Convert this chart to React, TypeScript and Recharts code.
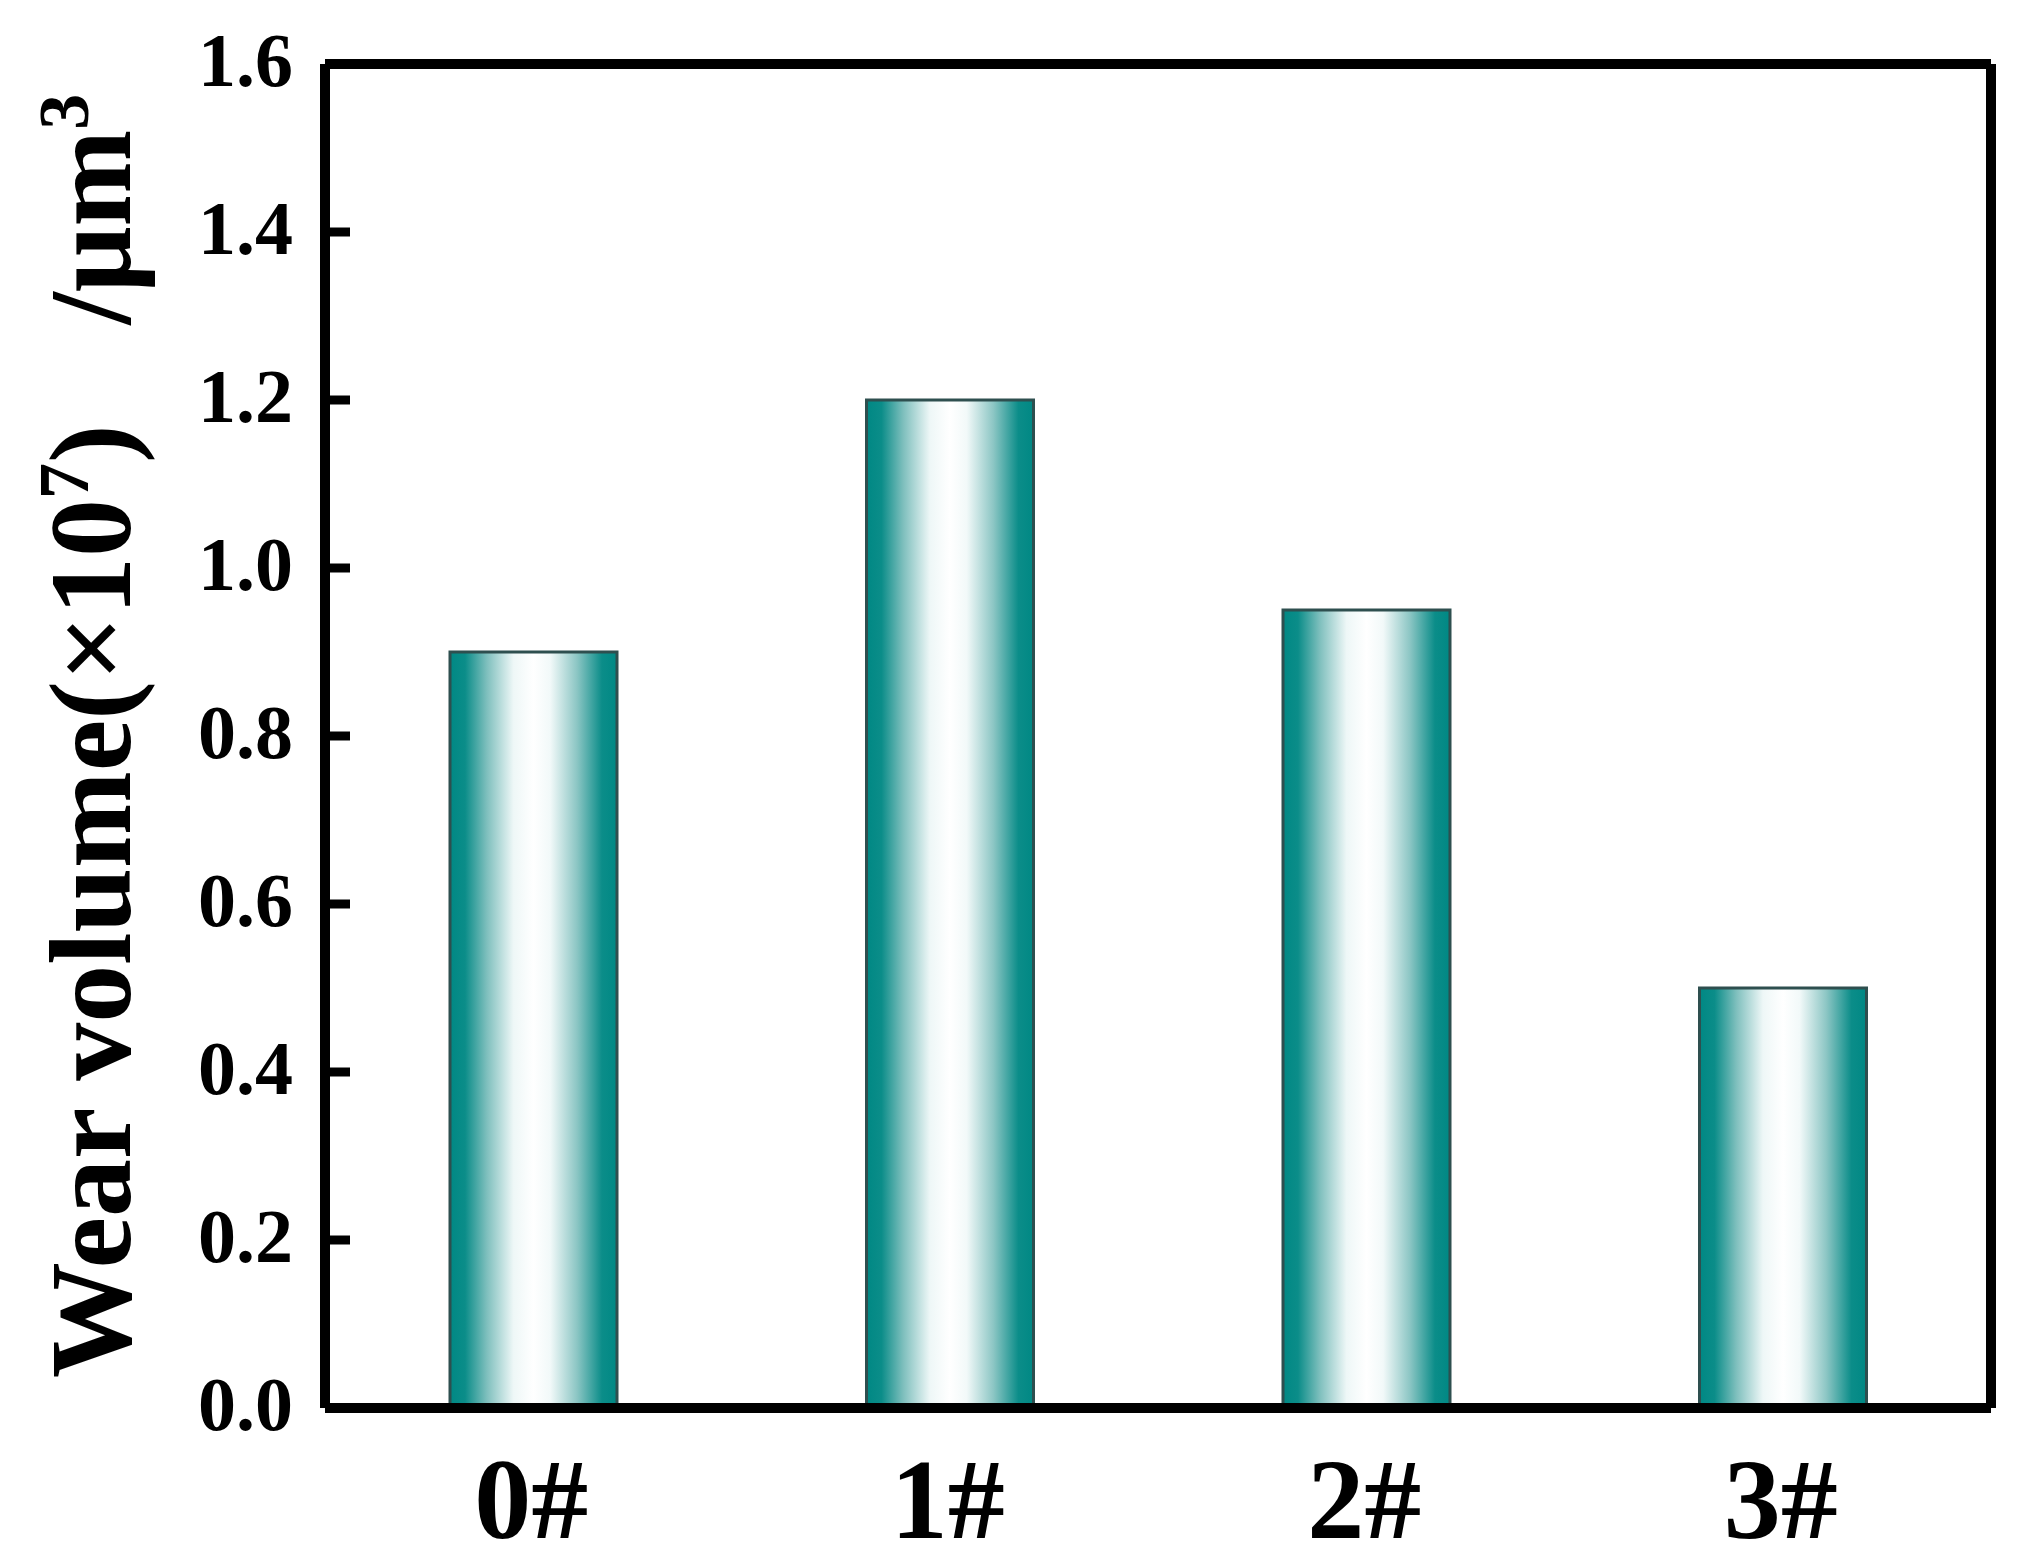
import React from "react";
import { BarChart, Bar, XAxis, YAxis } from "recharts";

const categories = ["0#", "1#", "2#", "3#"];
const wearVolume = [0.9, 1.2, 0.95, 0.5];
const yTicks = [0, 0.2, 0.4, 0.6, 0.8, 1.0, 1.2, 1.4, 1.6];

const data = categories.map((c, i) => ({ name: c, value: wearVolume[i] }));

const FONT = "'Liberation Serif', 'Times New Roman', Times, serif";

const YTick = (props: any) => {
  const { x, y, payload } = props;
  return (
    <g>
      <text
        x={x}
        y={y + 22}
        textAnchor="end"
        fontFamily={FONT}
        fontWeight="bold"
        fontSize={76}
        fill="#000"
      >
        {Number(payload.value).toFixed(1)}
      </text>
      <line x1={x + 32} x2={x + 57} y1={y} y2={y} stroke="#000" strokeWidth={9} />
    </g>
  );
};

const XTick = (props: any) => {
  const { x, y, payload } = props;
  return (
    <text
      x={x - 2}
      y={y + 120}
      textAnchor="middle"
      fontFamily={FONT}
      fontWeight="bold"
      fontSize={114}
      fill="#000"
    >
      {payload.value}
    </text>
  );
};

const YLabel = (props: any) => {
  const vb = props.viewBox || { x: 0, y: 64, width: 325, height: 1344 };
  const cx = 130;
  const cy = vb.y + vb.height / 2;
  return (
    <text
      x={cx}
      y={cy}
      transform={`rotate(-90 ${cx} ${cy})`}
      textAnchor="middle"
      fontFamily={FONT}
      fontWeight="bold"
      fontSize={116}
      fill="#000"
    >
      <tspan>Wear volume(×10</tspan>
      <tspan dy={-42} fontSize={72}>7</tspan>
      <tspan dy={42}>)</tspan>
      <tspan dx={100}>/μm</tspan>
      <tspan dy={-42} fontSize={72}>3</tspan>
    </text>
  );
};

export default function App() {
  return (
    <div style={{ position: "absolute", left: 0, top: 0, background: "#fff" }}>
      <BarChart
        width={2034}
        height={1567}
        data={data}
        margin={{ top: 63, right: 42, bottom: 0, left: 0 }}
        barSize={167}
      >
        <defs>
          <linearGradient id="barGrad" x1="0" y1="0" x2="1" y2="0">
            <stop offset="0%" stopColor="#008884" />
            <stop offset="9%" stopColor="#0b8d89" />
            <stop offset="22%" stopColor="#7ebfbd" />
            <stop offset="38%" stopColor="#eef7f7" />
            <stop offset="50%" stopColor="#ffffff" />
            <stop offset="60%" stopColor="#f2f9f9" />
            <stop offset="76%" stopColor="#8cc6c4" />
            <stop offset="91%" stopColor="#0b8d89" />
            <stop offset="100%" stopColor="#008884" />
          </linearGradient>
        </defs>
        <XAxis
          dataKey="name"
          xAxisId="bottom"
          height={159}
          axisLine={{ stroke: "#000", strokeWidth: 10 }}
          tickLine={false}
          tickSize={0}
          tickMargin={10}
          tick={<XTick />}
          interval={0}
        />
        <XAxis
          dataKey="name"
          xAxisId="top"
          orientation="top"
          height={1}
          axisLine={{ stroke: "#000", strokeWidth: 10 }}
          tickLine={false}
          tick={false}
        />
        <YAxis
          yAxisId="left"
          width={325}
          domain={[0, 1.6]}
          ticks={yTicks}
          interval={0}
          axisLine={{ stroke: "#000", strokeWidth: 10 }}
          tickLine={false}
          tickSize={0}
          tickMargin={32}
          tick={<YTick />}
          label={{ content: <YLabel /> }}
        />
        <YAxis
          yAxisId="right"
          orientation="right"
          width={1}
          domain={[0, 1.6]}
          axisLine={{ stroke: "#000", strokeWidth: 10 }}
          tickLine={false}
          tick={false}
        />
        <Bar
          dataKey="value"
          xAxisId="bottom"
          yAxisId="left"
          fill="url(#barGrad)"
          stroke="#2e4f4f"
          strokeWidth={3}
          isAnimationActive={false}
        />
      </BarChart>
    </div>
  );
}
